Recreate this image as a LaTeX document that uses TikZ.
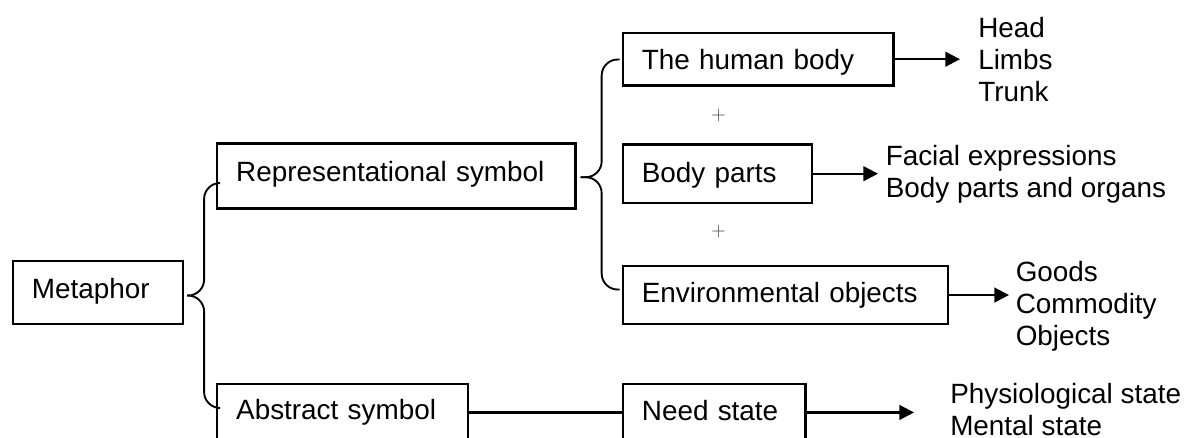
\documentclass[tikz,border=0pt]{standalone}
\usepackage{fontspec}
\setsansfont{Liberation Sans}
\usetikzlibrary{arrows.meta,calc}

\tikzset{
  box/.style={draw, line width=1.8pt, anchor=north west, inner xsep=14.25pt,
    inner ysep=0pt, align=left, text height=14.96pt},
  bracestyle/.style={line width=1.4pt, rounded corners=12pt},
  link/.style={line width=1.8pt},
  arrowlink/.style={line width=1.8pt, -{Triangle[length=11pt,width=11pt]}},
  % multi-line lists: placed by the baseline of their last line
  itemlist/.style={anchor=base west, inner sep=0pt, align=left},
  plussign/.style={font=\rmfamily\fontsize{15pt}{16pt}\selectfont, text=black!75, inner sep=0pt}
}

\begin{document}
\begin{tikzpicture}[x=0.75pt, y=-0.75pt,
  font=\sffamily\fontsize{20.9pt}{24pt}\selectfont]
\useasboundingbox (0,0) rectangle (1192,437);
\fill[white] (0,0) rectangle (1192,437);
\clip (0,0) rectangle (1192,437);

% boxes
\node[box, text width=99pt,     minimum height=47pt,    text depth=6.1pt] (meta)  at (11.7,260)   {Metaphor};
\node[box, text width=240.2pt,  minimum height=48.75pt, text depth=7.2pt] (rep)   at (216,142.3)  {Representational symbol};
\node[box, text width=159.5pt,  minimum height=42.4pt,  text depth=3.8pt] (abs)   at (216,383)    {Abstract symbol};
\node[box, text width=174.5pt,  minimum height=39.45pt, text depth=0pt]   (human) at (621.7,31.7) {The human body};
\node[box, text width=113.5pt,  minimum height=43.8pt,  text depth=1.2pt] (bodyp) at (621.7,143.3) {Body parts};
\node[box, text width=215.25pt, minimum height=43.7pt,  text depth=4.1pt] (env)   at (621.7,264.7) {Environmental objects};
\node[box, text width=108.5pt,  minimum height=42.4pt,  text depth=2.2pt] (need)  at (621.7,383)  {Need state};

% plus signs between the body-related boxes
\node[plussign] (plus1) at (718.5,115.7) {+};
\node[plussign] (plus2) at (718.5,231.7) {+};

% item lists
\node[itemlist] (headlist)  at (978,101)      {Head\\Limbs\\Trunk};
\node[itemlist] (facelist)  at (885.5,197.5)  {Facial expressions\\Body parts and organs};
\node[itemlist] (goodslist) at (1015.5,345.3) {Goods\\Commodity\\Objects};
\node[itemlist] (physlist)  at (950,435.5)    {Physiological state\\Mental state};

% arrow ends
\coordinate (a1) at (960,0);
\coordinate (a2) at (878,0);
\coordinate (a3) at (1009,0);
\coordinate (a4) at (914,0);
\draw[arrowlink] (human.east) -- (a1 |- human.east);
\draw[arrowlink] (bodyp.east) -- (a2 |- bodyp.east);
\draw[arrowlink] (env.east) -- (a3 |- env.east);
\draw[arrowlink] (need.east) -- (a4 |- need.east);
\draw[link] (abs.east) -- (need.west);

% brace from Metaphor
\coordinate (b1tip) at ($(meta.east)+(3,3)$);
\coordinate (b1v)   at ($(b1tip)+(17,0)$);
\coordinate (b1top) at ($(rep.west)+(2,7)$);
\coordinate (b1bot) at ($(abs.west)+(2,-4.5)$);
\draw[bracestyle] (b1top) -- (b1v |- b1top) -- (b1v |- b1tip) -- (b1tip);
\draw[bracestyle] (b1tip) -- (b1v |- b1tip) -- (b1v |- b1bot) -- (b1bot);

% brace from Representational symbol
\coordinate (b2tip) at ($(rep.east)+(4,1.2)$);
\coordinate (b2v)   at ($(b2tip)+(21,0)$);
\coordinate (b2top) at ($(human.west)+(-2,0.3)$);
\coordinate (b2bot) at ($(env.west)+(-2,-5.5)$);
\draw[bracestyle] (b2top) -- (b2v |- b2top) -- (b2v |- b2tip) -- (b2tip);
\draw[bracestyle] (b2tip) -- (b2v |- b2tip) -- (b2v |- b2bot) -- (b2bot);
\end{tikzpicture}
\end{document}
